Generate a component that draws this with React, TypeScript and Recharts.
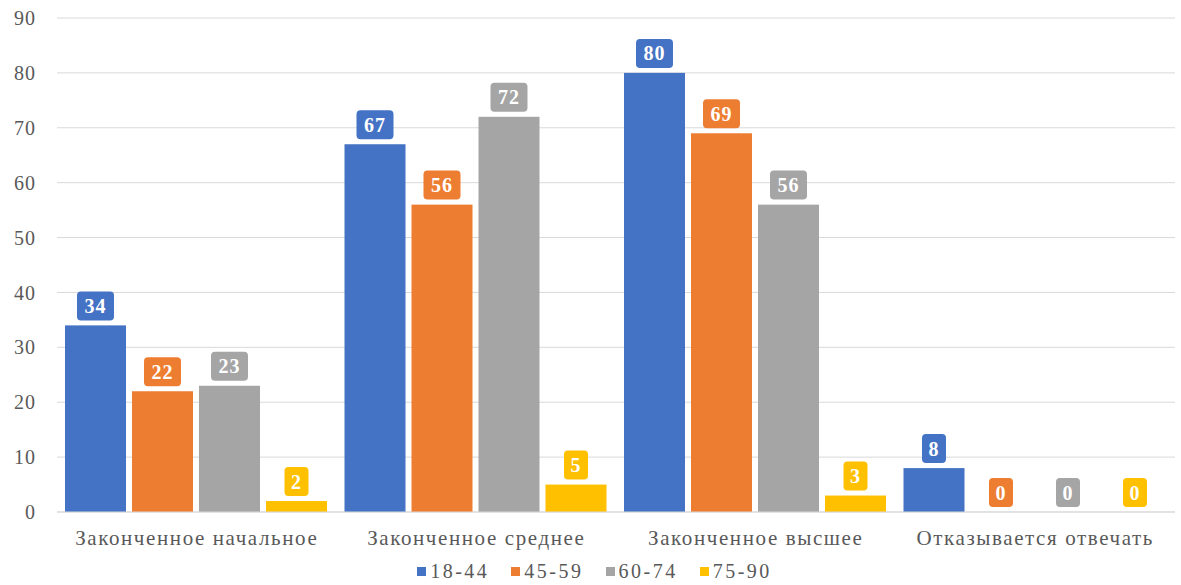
import { BarChart, Bar, XAxis, YAxis, CartesianGrid, Legend } from "recharts";

const categories = [
  "Законченное начальное",
  "Законченное среднее",
  "Законченное высшее",
  "Отказывается отвечать",
];
const age18_44 = [34, 67, 80, 8];
const age45_59 = [22, 56, 69, 0];
const age60_74 = [23, 72, 56, 0];
const age75_90 = [2, 5, 3, 0];
const yTicks = [0, 10, 20, 30, 40, 50, 60, 70, 80, 90];

const series = [
  { key: "a", name: "18-44", color: "#4472C4", values: age18_44 },
  { key: "b", name: "45-59", color: "#ED7D31", values: age45_59 },
  { key: "c", name: "60-74", color: "#A5A5A5", values: age60_74 },
  { key: "d", name: "75-90", color: "#FFC000", values: age75_90 },
];

const data = categories.map((cat, i) => {
  const row: Record<string, string | number> = { cat };
  series.forEach((s) => (row[s.key] = s.values[i]));
  return row;
});

const FONT = '"Liberation Serif", "Times New Roman", Times, "DejaVu Serif", serif';

// bar plus a rounded value badge in the series colour just above it
const barWithBadge = (key: string, color: string) => (props: any) => {
  const { x, y, width, height } = props;
  const value = props.payload?.[key];
  const text = String(value);
  const w = text.length > 1 ? 37 : 24;
  const h = 29;
  const cx = x + width / 2;
  const bottom = y - 5;
  return (
    <g>
      {height > 0 && <rect x={x} y={y} width={width} height={height} fill={color} />}
      <rect x={cx - w / 2} y={bottom - h} width={w} height={h} rx={4} fill={color} />
      <text
        x={cx}
        y={bottom - h / 2 + 7}
        textAnchor="middle"
        fill="#fff"
        fontFamily={FONT}
        fontWeight="bold"
        fontSize={20}
        letterSpacing={1}
      >
        {text}
      </text>
    </g>
  );
};

const renderLegend = () => (
  <div
    style={{
      display: "flex",
      justifyContent: "center",
      gap: 22,
      fontFamily: FONT,
      fontSize: 20,
      letterSpacing: 2.5,
      color: "#595959",
      paddingLeft: 14,
    }}
  >
    {series.map((s) => (
      <span key={s.key} style={{ display: "flex", alignItems: "center" }}>
        <span style={{ width: 9, height: 9, background: s.color, marginRight: 4, display: "inline-block" }} />
        {s.name}
      </span>
    ))}
  </div>
);

export default function App() {
  return (
    <div style={{ position: "absolute", left: 0, top: 0, background: "#fff", fontFamily: FONT }}>
      <BarChart
        width={1181}
        height={585}
        data={data}
        margin={{ top: 18, right: 6, bottom: 0, left: 0 }}
        barCategoryGap={8}
        barGap={6}
      >
        <CartesianGrid vertical={false} stroke="#d9d9d9" />
        <XAxis
          dataKey="cat"
          axisLine={{ stroke: "#d9d9d9" }}
          tickLine={false}
          height={48}
          tickMargin={12}
          tick={{ fill: "#595959", fontSize: 21, fontFamily: FONT, letterSpacing: 1.6 }}
        />
        <YAxis
          domain={[0, 90]}
          ticks={yTicks}
          width={57}
          axisLine={false}
          tickLine={false}
          tickMargin={15}
          tick={{ fill: "#595959", fontSize: 20, fontFamily: FONT, letterSpacing: 1 }}
        />
        <Legend content={renderLegend} verticalAlign="bottom" height={25} />
        {series.map((s) => (
          <Bar
            key={s.key}
            dataKey={s.key}
            name={s.name}
            fill={s.color}
            isAnimationActive={false}
            shape={barWithBadge(s.key, s.color)}
          />
        ))}
      </BarChart>
    </div>
  );
}
